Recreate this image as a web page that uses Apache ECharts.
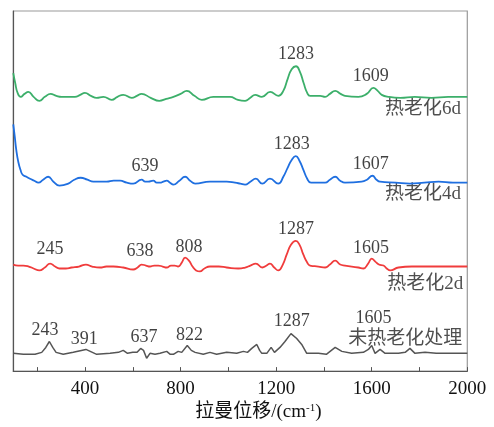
<!DOCTYPE html>
<html><head><meta charset="utf-8">
<script src="https://cdn.jsdelivr.net/npm/echarts@6/dist/echarts.min.js"></script>
<style>html,body{margin:0;padding:0;background:#fff}#c{width:494px;height:427px}</style>
</head><body><div id="c"></div>
<script>
// Raman shift (cm-1), intensity (stacked display units)
const green6d = [[100,302],[108,292],[118,282],[131,278],[147,281],[163,283],[185,278],[209,274],[232,278],[256,281],[280,279],[302,278],[330,278],[358,278],[380,280],[400,282],[425,279],[449,277],[477,278],[512,275],[536,278],[560,280],[596,277],[617,279],[637,281],[675,277],[711,274],[740,276],[770,278],[800,281],[826,284],[858,279],[889,275],[937,278],[972,278],[1007,278],[1040,275],[1070,274],[1092,277],[1112,280],[1140,278],[1175,283],[1209,279],[1230,284],[1248,296],[1265,306],[1283,309],[1300,303],[1315,292],[1330,282],[1342,279],[1384,279],[1405,278],[1425,281],[1447,284],[1470,281],[1488,279],[1544,278],[1579,281],[1607,287],[1625,284],[1642,280],[1670,278],[1720,277],[1780,278],[1850,277],[1920,278],[2000,278]];
const blue4d = [[100,250],[106,238],[112,225],[121,212],[130,204],[139,199],[155,197],[170,195],[188,193],[205,191],[225,194],[246,197],[268,192],[293,188],[330,190],[355,194],[382,196],[410,194],[435,192],[491,192],[520,193],[547,193],[575,191],[602,190],[637,194],[652,192],[665,192],[686,193],[700,191],[714,191],[728,192],[742,193],[756,191],[770,189],[795,193],[819,197],[840,193],[861,190],[923,192],[993,192],[1028,191],[1050,190],[1070,189],[1092,192],[1115,195],[1142,190],[1174,195],[1209,190],[1230,197],[1248,206],[1265,214],[1282,218],[1298,213],[1314,204],[1330,195],[1346,191],[1405,191],[1425,194],[1447,197],[1468,193],[1488,191],[1558,192],[1580,194],[1603,198],[1620,194],[1635,192],[1700,191],[1760,190],[1820,191],[1880,192],[1940,191],[2000,191]];
const red2d = [[100,108],[120,107],[142,107],[165,106],[185,104],[209,102],[232,105],[254,109],[275,106],[293,104],[320,104],[344,105],[375,106],[404,108],[430,106],[463,105],[490,106],[519,106],[560,105],[602,103],[620,105],[637,108],[655,107],[672,106],[690,107],[707,107],[725,106],[742,105],[760,107],[775,107],[790,106],[805,110],[819,115],[835,112],[850,106],[865,102],[881,101],[900,104],[923,106],[960,106],[993,105],[1042,104],[1070,105],[1092,107],[1115,109],[1142,105],[1160,107],[1174,109],[1192,105],[1209,102],[1228,108],[1244,118],[1262,128],[1282,132],[1298,128],[1314,118],[1330,110],[1342,107],[1377,106],[1405,105],[1425,108],[1447,112],[1468,108],[1488,107],[1544,105],[1565,104],[1585,109],[1600,114],[1615,111],[1630,108],[1649,107],[1663,104],[1677,102],[1712,105],[1768,106],[1850,106],[1930,106],[2000,106]];
const grayRaw = [[100,18],[142,17],[191,17],[219,19],[236,24],[251,30],[265,24],[279,19],[309,17],[351,19],[404,22],[449,17],[505,18],[540,19],[560,21],[578,18],[600,19],[618,19],[633,23],[645,21],[658,13],[672,18],[693,17],[714,18],[742,20],[757,17],[770,17],[790,20],[805,19],[828,26],[845,21],[861,19],[895,17],[923,19],[951,17],[993,19],[1035,18],[1063,20],[1080,19],[1098,23],[1119,27],[1131,21],[1140,18],[1161,18],[1179,24],[1193,19],[1216,24],[1237,30],[1262,38],[1286,33],[1307,27],[1328,18],[1377,18],[1410,17],[1447,24],[1475,20],[1516,18],[1565,19],[1586,22],[1600,26],[1614,18],[1635,22],[1656,18],[1712,18],[1740,19],[1760,23],[1781,18],[1823,19],[1870,18],[1930,18],[2000,18]];
// peak labels: [x, y, text]
const peakLabels = [[1283,321,'1283'],[1596,299,'1609'],[1265,230,'1283'],[1596,210,'1607'],[651,208,'639'],[254,123,'245'],[630,121,'638'],[835,126,'808'],[1283,144,'1287'],[1597,125,'1605'],[233,41,'243'],[397,32,'391'],[647,34,'637'],[837,36,'822'],[1265,51,'1287'],[1607,54,'1605']];
const seriesLabels = [[1815,266,'热老化6d'],[1815,179,'热老化4d'],[1824,88,'热老化2d'],[1740,33,'未热老化处理']];
const xTickValues = [200,400,600,800,1000,1200,1400,1600,1800,2000];
const xLabelValues = [400,800,1200,1600,2000];

const chart = echarts.init(document.getElementById('c'));
const serif = '"Liberation Serif", "Noto Sans CJK SC", serif';
chart.setOption({
  animation:false,
  grid:{left:13.3,right:26.7,top:11,bottom:51,show:true,borderColor:'#999',borderWidth:1.2,backgroundColor:'transparent'},
  xAxis:{type:'value',min:100,max:2000,
    axisLine:{onZero:false,lineStyle:{color:'#555',width:1.2}},
    axisTick:{inside:true,length:4,customValues:xTickValues,lineStyle:{color:'#555'}},
    splitLine:{show:false},
    axisLabel:{fontFamily:serif,fontSize:19,color:'#111',margin:8,customValues:xLabelValues,formatter:v=>String(v)},
    name:'{a|拉曼位移/(cm}{s|-1}{a|)}',nameLocation:'middle',nameGap:30,
    nameTextStyle:{padding:[0,0,0,36],rich:{a:{fontFamily:serif,fontSize:19,color:'#111'},s:{fontFamily:serif,fontSize:11,color:'#111',verticalAlign:'top',padding:[0,0,8,0]}}}
  },
  yAxis:{type:'value',min:0,max:365,
    axisLine:{show:true,onZero:false,lineStyle:{color:'#555',width:1.2}},axisTick:{show:false},axisLabel:{show:false},splitLine:{show:false}},
  series:[
    {type:'line',data:grayRaw,showSymbol:false,smooth:false,lineStyle:{color:'#555',width:1.5}},
    {type:'line',data:red2d,showSymbol:false,smooth:0.5,lineStyle:{color:'#f03c3c',width:1.8}},
    {type:'line',data:blue4d,showSymbol:false,smooth:0.5,lineStyle:{color:'#1f6fe0',width:1.8}},
    {type:'line',data:green6d,showSymbol:false,smooth:0.5,lineStyle:{color:'#3caf6a',width:1.8}},
    {type:'scatter',data:peakLabels,symbolSize:0,silent:true,
      label:{show:true,position:'inside',formatter:p=>p.value[2],fontFamily:serif,fontSize:18,color:'#111'}},
    {type:'scatter',data:seriesLabels,symbolSize:0,silent:true,
      label:{show:true,position:'inside',formatter:p=>p.value[2],fontFamily:serif,fontSize:19,color:'#222'}}
  ]
});
</script></body></html>
